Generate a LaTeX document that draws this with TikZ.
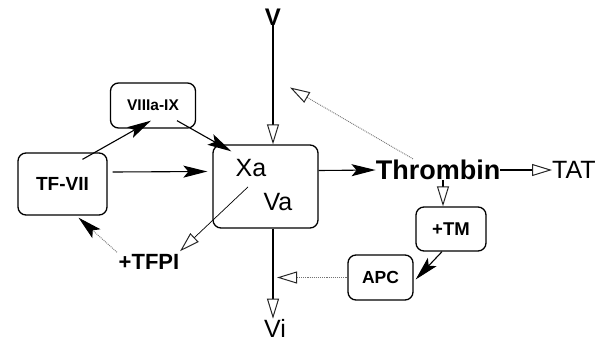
\documentclass[tikz,border=0pt]{standalone}
\usepackage{fontspec}
\setmainfont{Liberation Sans}
\usetikzlibrary{arrows.meta}
\begin{document}
\begin{tikzpicture}[x=1pt,y=-1pt,
  box/.style={draw, rounded corners=8pt, line width=1.3pt, inner sep=0pt},
  lbl/.style={inner sep=0pt},
  ln/.style={line width=1.1pt},
  dot/.style={line width=0.9pt, densely dotted, black!55},
  fillarr/.style={-{Stealth[length=24pt,width=12pt,inset=5pt,black]}},
  openarr/.style={-{Triangle[open,length=20pt,width=12pt,line width=1pt,black!85]}}
]
\useasboundingbox[fill=white] (0,0) rectangle (599,343);

% boxes
\node[box, minimum width=105pt, minimum height=83pt] (X) at (265.5,186.5) {};
\node[box, minimum width=89pt, minimum height=62pt, font=\bfseries\fontsize{19}{19}\selectfont] (TF) at (62.5,184) {TF-VII};
\node[box, minimum width=85pt, minimum height=45pt, font=\bfseries\fontsize{15.5}{15.5}\selectfont] (VIII) at (153,105.5) {VIIIa-IX};
\node[box, minimum width=70pt, minimum height=44pt, font=\bfseries\fontsize{18.5}{18.5}\selectfont] (TM) at (451,229) {+TM};
\node[box, minimum width=65pt, minimum height=45pt, font=\bfseries\fontsize{17.5}{17.5}\selectfont] (APC) at (380.5,277.5) {APC};

% texts
\node[lbl, font=\fontsize{25}{25}\selectfont] (Xa) at (251,168) {Xa};
\node[lbl, font=\fontsize{25}{25}\selectfont] (Va) at (278,202) {Va};
\node[lbl, font=\bfseries\fontsize{24}{24}\selectfont] (V) at (273,17) {V};
\node[lbl, font=\bfseries\fontsize{27}{27}\selectfont] (Th) at (438,170) {Thrombin};
\node[lbl, anchor=west, font=\fontsize{25}{25}\selectfont] (TAT) at (552,170) {TAT};
\node[lbl, font=\bfseries\fontsize{22}{22}\selectfont] (TFPI) at (149,262) {+TFPI};
\node[lbl, font=\fontsize{25}{25}\selectfont] (Vi) at (275,328) {Vi};

% connectors
\draw[ln, openarr] (V.south) -- (V.south |- X.north);
\draw[ln, fillarr] ([shift={(20,7)}]TF.north) -- ([shift={(-2,-8)}]VIII.south);
\draw[ln, fillarr] ([shift={(24,-8)}]VIII.south) -- ([shift={(19,7)}]X.north west);
\draw[ln, fillarr] ([shift={(5,-12)}]TF.east) -- ([shift={(-5,-15)}]X.west);
\draw[ln, fillarr] ([shift={(0,-16)}]X.east) -- (Th.west);
\draw[ln, openarr] (Th.east) -- (TAT.west);
\draw[dot, openarr] ([shift={(-25,-1)}]Th.north) -- ([shift={(17,62)}]V.south);
\coordinate (ThS) at ([shift={(5,0)}]Th.south);
\draw[ln, openarr] (ThS) -- (ThS |- TM.north);
\draw[ln, fillarr] ([shift={(-9,0)}]TM.south) -- ([shift={(2,2)}]APC.east);
\coordinate (J) at (V.south |- APC.west);
\draw[ln] (V.south |- X.south) -- (J);
\draw[dot, openarr] (APC.west) -- ([shift={(4,0)}]J);
\draw[ln, openarr] (J) -- (Vi.north -| V.south);
\draw[line width=0.7pt, openarr] ([shift={(-3,10)}]Xa.south) -- ([shift={(31,-3)}]TFPI.north);
\draw[dot, fillarr] ([shift={(-32,-2)}]TFPI.north) -- ([shift={(16,2)}]TF.south);
\end{tikzpicture}
\end{document}
